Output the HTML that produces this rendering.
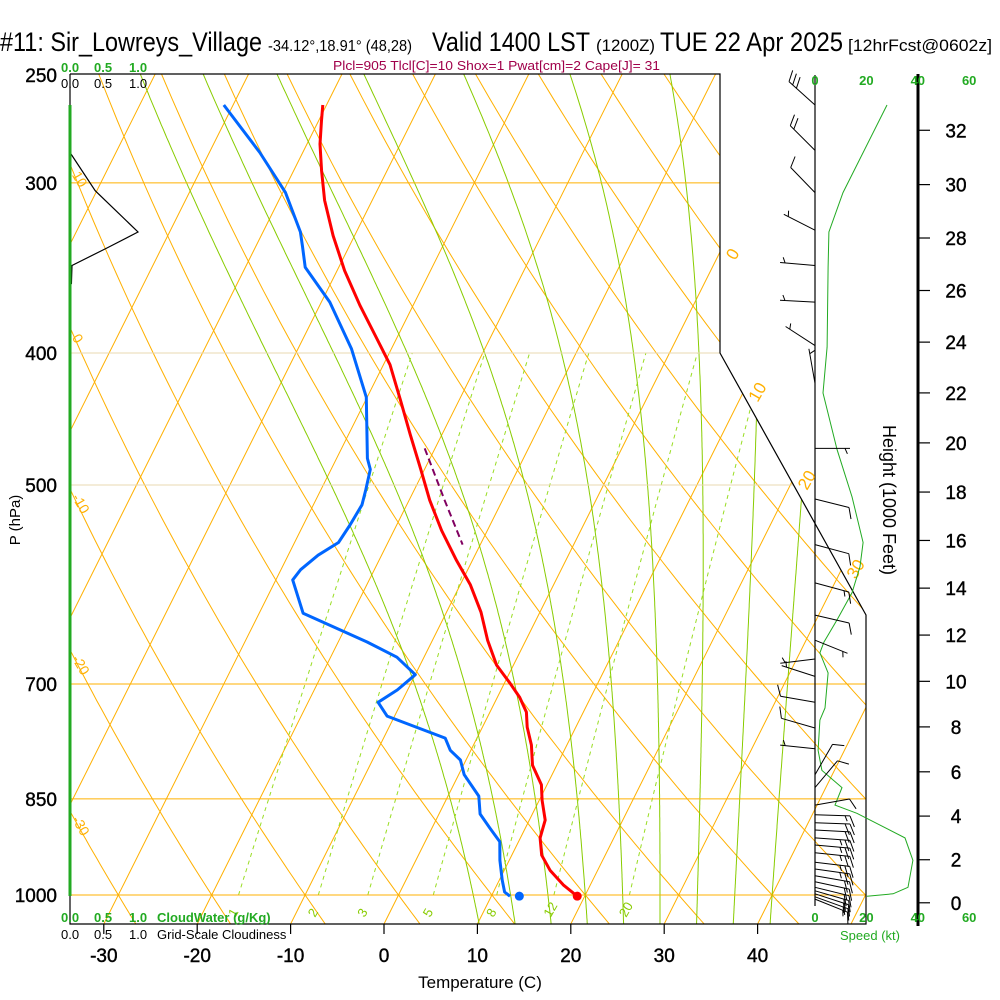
<!DOCTYPE html>
<html><head><meta charset="utf-8"><title>Skew-T Sir_Lowreys_Village</title>
<style>
html,body{margin:0;padding:0;background:#fff;}
svg{display:block;font-family:"Liberation Sans",sans-serif;}
</style></head>
<body>
<svg id="chart" xmlns="http://www.w3.org/2000/svg" width="1000" height="1000" viewBox="0 0 1000 1000">
<defs>
<clipPath id="plotclip"><polygon points="70,74 720,74 720,353 866,615 866,924 70,924"/></clipPath>
</defs>
<rect x="0" y="0" width="1000" height="1000" fill="#fff"/>
<g id="title">
<text x="0" y="51" font-size="27" textLength="262" lengthAdjust="spacingAndGlyphs">#11: Sir_Lowreys_Village</text>
<text x="268" y="51" font-size="16" textLength="144" lengthAdjust="spacingAndGlyphs">-34.12°,18.91° (48,28)</text>
<text x="432" y="51" font-size="27" textLength="158" lengthAdjust="spacingAndGlyphs">Valid 1400 LST</text>
<text x="596" y="51" font-size="17" textLength="59" lengthAdjust="spacingAndGlyphs">(1200Z)</text>
<text x="660" y="51" font-size="27" textLength="183" lengthAdjust="spacingAndGlyphs">TUE 22 Apr 2025</text>
<text x="848" y="51" font-size="17" textLength="144" lengthAdjust="spacingAndGlyphs">[12hrFcst@0602z]</text>
</g>
<text x="333" y="70" font-size="13" fill="#a0004a" textLength="327" lengthAdjust="spacingAndGlyphs">Plcl=905 Tlcl[C]=10 Shox=1 Pwat[cm]=2 Cape[J]= 31</text>
<g id="grid" clip-path="url(#plotclip)"></g>
<g id="series" clip-path="url(#plotclip)"></g>
<g id="frame"></g>
<g id="labels"></g>
<g id="wind"></g>
</svg>
<script>
// ---- data arrays ----
const tempP = [1002,983,959,935,908,881,852,830,803,776,753,734,716,699,678,650,620,592,568,540,513,487,459,433,408,388,369,348,328,309,294,281,270,263];
const tempC = [19.2,17.1,14.9,13.2,12.1,11.7,10.3,9.4,7.4,6.2,4.8,3.9,2.4,0.6,-1.8,-4.1,-6.3,-8.9,-11.7,-14.9,-17.8,-20.4,-23.4,-26.3,-29.3,-32.5,-35.7,-39.2,-42.3,-45.1,-47.0,-48.6,-49.7,-50.4];
const dewP = [1002,995,975,943,914,893,872,846,816,796,783,767,739,722,707,689,669,652,621,587,577,563,551,535,517,504,487,478,431,397,367,346,334,326,305,285,263];
const dewC = [12.0,11.2,10.3,9.0,8.0,6.2,4.4,3.3,0.6,-0.6,-2.2,-3.4,-10.8,-12.5,-11.1,-10.0,-12.9,-16.9,-25.3,-28.2,-27.9,-26.8,-25.3,-25.0,-24.8,-25.2,-25.8,-26.7,-30.1,-34.3,-39.1,-43.6,-45.0,-46.0,-49.7,-54.6,-61.0];
const surfaceT = 19.2, surfaceTd = 13.0, surfaceP = 1002;
const parcelP = [470,513,553];
const parcelC = [-21.1,-16.2,-11.9];
const cloudP = [285,304,326,335,345,356];
const cloudFrac = [0,0.37,1.0,0.54,0.03,0.02];
const speedP = [263,305,326,346,396,428,471,510,551,574,600,628,652,664,687,729,744,783,810,834,859,871,908,943,987,998,1002];
const speedKt = [28.0,10.9,5.4,5.1,4.7,3.1,8.6,14.4,18.7,17.5,14.4,8.6,3.5,1.9,5.1,3.9,1.9,1.2,2.7,10.5,7.8,16.3,35.0,38.1,36.2,30.4,20.2];
const barbP = [263,284,305,325,345,367,395,421,470,512,553,590,623,650,671,691,722,754,781,816,834,859,873,885,896,908,919,931,946,957,968,978,987,993,998,1003,1007];
const barbDir = [312,315,316,297,275,273,303,350,90,104,105,105,103,112,263,288,280,286,276,30,40,80,92,92,93,94,95,96,97,98,100,102,104,106,108,110,112];
const barbSpd = [28,20,11,6,5,5,5,3,6,8,10,14,10,6,5,6,8,8,3,8,12,10,15,20,22,25,25,25,25,25,20,20,20,20,20,15,15];
const pressureTicks = [250,300,400,500,700,850,1000];
const tempTicks = [-30,-20,-10,0,10,20,30,40];
const heightTicks = [0,2,4,6,8,10,12,14,16,18,20,22,24,26,28,30,32];
const speedTicks = [0,20,40,60];
const mixRatios = [1,2,3,5,8,12,20];
const isothermVals = [-120,-110,-100,-90,-80,-70,-60,-50,-40,-30,-20,-10,0,10,20,30,40,50];
const dryThetas = [-40,-30,-20,-10,0,10,20,30,40,50,60,70,80,90,100,110,120,130,140];
const moistThetaW = [8,12,16,20,24,28,32,36,40];
const isoLabelVals = [0,10,20,30];
const dryLabelVals = [10,0,-10,-20,-30];

// ---- axes ----
const NS = "http://www.w3.org/2000/svg";
function yP(p){ return 895 - 591.5*Math.log(1000/p); }
function xTy(T,y){ return 384 + 9.34*T + 0.5*(924 - y); }
function xT(T,p){ return xTy(T, yP(p)); }
function xSpd(s){ return 815 + 2.57*s; }
function pFromHft(h){ return 1013.25*Math.pow(1 - 6.8756e-6*h*1000, 5.2559); }
function el(tag, attrs, parent){ const e=document.createElementNS(NS,tag); for(const k in attrs) e.setAttribute(k,attrs[k]); parent.appendChild(e); return e; }
function pathFrom(pts){ return pts.map((q,i)=>(i?'L':'M')+q[0].toFixed(1)+','+q[1].toFixed(1)).join(''); }

const grid = document.getElementById('grid');
const series = document.getElementById('series');
const frame = document.getElementById('frame');
const labels = document.getElementById('labels');
const wind = document.getElementById('wind');
const ORANGE = '#ffb000', GREEN='#88cc00';

// isotherms
isothermVals.forEach(T=>{
  const l = el('line',{x1:xTy(T,924),y1:924,x2:xTy(T,74),y2:74,stroke:ORANGE,'stroke-width':1},grid);
  
  
});
// dry adiabats
dryThetas.forEach(th=>{
  const pts=[];
  for(let p=1060;p>=240;p-=10){ const T=(th+273.15)*Math.pow(p/1000,0.286)-273.15; pts.push([xT(T,p),yP(p)]); }
  const e = el('path',{d:pathFrom(pts),fill:'none',stroke:ORANGE,'stroke-width':1},grid);
  
  
});
// moist adiabats
function es(Tc){ return 6.112*Math.exp(17.67*Tc/(Tc+243.5)); }
function dTdp(TK,p){ const Rd=287,cp=1005,L=2.5e6,eps=0.622; const e=es(TK-273.15); const rs=eps*e/(p-e);
  return (Rd*TK + L*rs)/(p*(cp + L*L*rs*eps/(Rd*TK*TK))); }
moistThetaW.forEach(tw=>{
  const up=[], down=[];
  let T=tw+273.15;
  for(let p=1000;p>=240;p-=2){ up.push([xT(T-273.15,p),yP(p)]); T -= dTdp(T,p)*2; }
  T=tw+273.15;
  for(let p=1000;p<=1060;p+=2){ down.push([xT(T-273.15,p),yP(p)]); T += dTdp(T,p)*2; }
  const pts = down.reverse().concat(up);
  const e = el('path',{d:pathFrom(pts),fill:'none',stroke:GREEN,'stroke-width':1},grid);
  
  
});
// mixing ratio lines
mixRatios.forEach(w=>{
  const pts=[];
  for(let p=1000;p>=400;p-=10){ const e=w*p/(622+w); const a=Math.log(e/6.112); const T=243.5*a/(17.67-a); pts.push([xT(T,p),yP(p)]); }
  const e = el('path',{d:pathFrom(pts),fill:'none',stroke:'#99dd22','stroke-width':1,'stroke-dasharray':'4,4'},grid);
  
  
  const p0=1000, ee=w*p0/(622+w), a=Math.log(ee/6.112), T0=243.5*a/(17.67-a);
  const tx = xT(T0,1030)+4;
  const ty = yP(1030);
  const t = el('text',{x:tx-4,y:ty+4,'font-size':13,fill:'#88cc00',transform:`rotate(-60 ${tx} ${ty})`},labels);
  t.textContent = String(w);
  
  
});
// pressure lines
pressureTicks.forEach(p=>{
  if(p>250){
    const l = el('line',{x1:70,y1:yP(p),x2:866,y2:yP(p),stroke:(p==400||p==500)?'#e8d8b0':ORANGE,'stroke-width':1},grid);
    
    
  }
  const t = el('text',{x:57,y:yP(p)+7,'font-size':19,'text-anchor':'end',fill:'#000',stroke:'#000','stroke-width':0.4},labels);
  t.textContent = String(p);
  
  
});

// temperature & dewpoint
function profile(P,C,color,name){
  const pts=P.map((p,i)=>[xT(C[i],p),yP(p)]);
  const e=el('path',{d:pathFrom(pts),fill:'none',stroke:color,'stroke-width':3,'stroke-linejoin':'round'},series);
  
  
}
profile(tempP,tempC,'#ff0000','temperature-line');
profile(dewP,dewC,'#0066ff','dewpoint-line');
{
  const pts=parcelP.map((p,i)=>[xT(parcelC[i],p),yP(p)]);
  const e=el('path',{d:pathFrom(pts),fill:'none',stroke:'#800060','stroke-width':2,'stroke-dasharray':'7,4'},series);
  
  
  const c1=el('circle',{cx:xT(surfaceT,surfaceP),cy:yP(surfaceP),r:4.5,fill:'#ff0000'},series);
  
  
  const c2=el('circle',{cx:xT(surfaceTd,surfaceP),cy:yP(surfaceP),r:4.5,fill:'#0066ff'},series);
  
  
}
// cloudiness profile
{
  const pts=cloudP.map((p,i)=>[70+68*cloudFrac[i],yP(p)]);
  const e=el('path',{d:pathFrom(pts),fill:'none',stroke:'#000','stroke-width':1.2},series);
  
  
}

// frame
{
  const f=el('path',{d:'M70,74 L720,74 L720,353 L866,615 L866,924 L70,924 L70,74',fill:'none',stroke:'#000','stroke-width':1.2},frame);
  
  
  const g=el('line',{x1:70,y1:105,x2:70,y2:896,stroke:'#22aa22','stroke-width':3},frame);
  
  
  const s=el('line',{x1:815,y1:75,x2:815,y2:906,stroke:'#000','stroke-width':1.2},frame);
  
  
  const h=el('line',{x1:918,y1:74,x2:918,y2:926,stroke:'#000','stroke-width':3},frame);
  
  
}
// temperature ticks
tempTicks.forEach(T=>{
  const x=xTy(T,924);
  const l=el('line',{x1:x,y1:924,x2:x,y2:934,stroke:'#000','stroke-width':1.2},frame);
  
  
  const t=el('text',{x:x,y:962,'font-size':19,'text-anchor':'middle',fill:'#000',stroke:'#000','stroke-width':0.4},labels);
  t.textContent=String(T);
  
  
});
// height ticks
heightTicks.forEach(h=>{
  const y=yP(pFromHft(h));
  const l=el('line',{x1:918,y1:y,x2:930,y2:y,stroke:'#000','stroke-width':1.2},frame);
  
  
  const t=el('text',{x:956,y:y+7,'font-size':19,'text-anchor':'middle',fill:'#000',stroke:'#000','stroke-width':0.4},labels);
  t.textContent=String(h);
  
  
});
// speed ticks labels
speedTicks.forEach(s=>{
  [85,922].forEach(y=>{
    const t=el('text',{x:xSpd(s),y:y,'font-size':13,'text-anchor':'middle',fill:'#22aa22','font-weight':'bold'},labels);
    t.textContent=String(s);
    
    
  });
});
// isotherm labels right side
isoLabelVals.forEach(T=>{
  let y;
  for(y=74;y<924;y++){ const xb = y<353?720:(y<615?720+(y-353)*0.557:866); if(xTy(T,y)<=xb){break;} }
  const x=xTy(T,y)+10;
  const t=el('text',{x:x,y:y+12,'font-size':17,fill:ORANGE,transform:`rotate(-60 ${x} ${y+6})`},labels);
  t.textContent=String(T);
  
  
});
// dry adiabat labels left side
dryLabelVals.forEach(th=>{
  let best=null;
  for(let p=250;p<=1050;p+=1){ const T=(th+273.15)*Math.pow(p/1000,0.286)-273.15; const x=xT(T,p); if(x>=72){best=p;break;} }
  const y=yP(best)+10;
  const t=el('text',{x:74,y:y,'font-size':14,fill:ORANGE,transform:`rotate(60 78 ${y-5})`},labels);
  t.textContent=String(th);
  
  
});

// wind speed profile
{
  const pts=speedP.map((p,i)=>[xSpd(speedKt[i]),yP(p)]);
  const e=el('path',{d:pathFrom(pts),fill:'none',stroke:'#22aa22','stroke-width':1},wind);
  
  
}
// wind barbs
barbP.forEach((p,i)=>{
  const d=barbDir[i]*Math.PI/180, s=barbSpd[i];
  const bx=815, by=yP(p), L=35;
  const ux=Math.sin(d), uy=-Math.cos(d);
  const tx=bx+L*ux, ty=by+L*uy;
  const px=-uy, py=ux;
  let path=`M${bx},${by.toFixed(1)}L${tx.toFixed(1)},${ty.toFixed(1)}`;
  let rem=Math.round(s/5)*5, k=0;
  while(rem>=10){ const sx=tx-ux*k*5, sy=ty-uy*k*5; path+=`M${sx.toFixed(1)},${sy.toFixed(1)}l${(12*(0.9*px+0.4*ux)).toFixed(1)},${(12*(0.9*py+0.4*uy)).toFixed(1)}`; rem-=10; k++; }
  if(rem>=5){ if(k==0)k=1; const sx=tx-ux*k*5, sy=ty-uy*k*5; path+=`M${sx.toFixed(1)},${sy.toFixed(1)}l${(6*(0.9*px+0.4*ux)).toFixed(1)},${(6*(0.9*py+0.4*uy)).toFixed(1)}`; }
  const e=el('path',{d:path,fill:'none',stroke:'#000','stroke-width':1},wind);
  
  
});

// static labels
function txt(x,y,str,attrs,name){
  const t=el('text',Object.assign({x:x,y:y},attrs),labels);
  t.textContent=str;
  
  
  return t;
}
const G={'font-size':13,fill:'#22aa22','font-weight':'bold'};
const B={'font-size':13,fill:'#000'};
txt(61,72,'0.0',G,'cloudwater-scale-label');txt(94,72,'0.5',G,'cloudwater-scale-label');txt(129,72,'1.0',G,'cloudwater-scale-label');
txt(61,88,'0.0',B,'cloudiness-scale-label');txt(94,88,'0.5',B,'cloudiness-scale-label');txt(129,88,'1.0',B,'cloudiness-scale-label');
txt(61,922,'0.0',G,'cloudwater-scale-label');txt(94,922,'0.5',G,'cloudwater-scale-label');txt(129,922,'1.0',G,'cloudwater-scale-label');
txt(157,922,'CloudWater (g/Kg)',G,'cloudwater-axis-title');
txt(61,939,'0.0',B,'cloudiness-scale-label');txt(94,939,'0.5',B,'cloudiness-scale-label');txt(129,939,'1.0',B,'cloudiness-scale-label');
txt(157,939,'Grid-Scale Cloudiness',B,'cloudiness-axis-title');
txt(480,988,'Temperature (C)',{'font-size':17,'text-anchor':'middle',fill:'#000'},'x-axis-title');
txt(20,520,'P (hPa)',{'font-size':15,'text-anchor':'middle',fill:'#000',transform:'rotate(-90 20 520)'},'y-axis-title');
txt(883,500,'Height (1000 Feet)',{'font-size':18,'text-anchor':'middle',fill:'#000',transform:'rotate(90 883 500)'},'height-axis-title');
txt(870,940,'Speed (kt)',{'font-size':13,'text-anchor':'middle',fill:'#22aa22'},'speed-axis-title');
</script>
</body></html>
